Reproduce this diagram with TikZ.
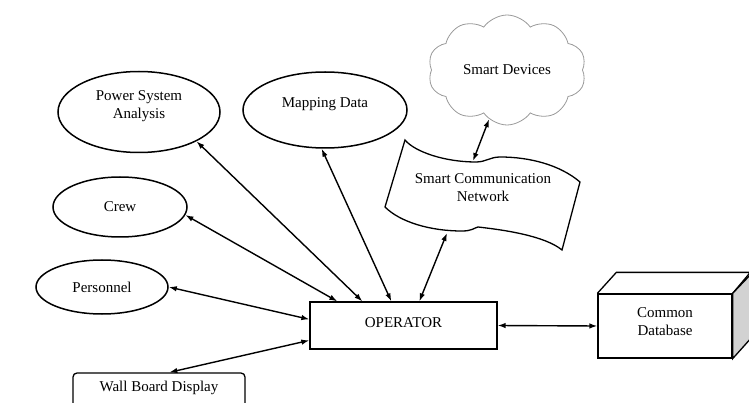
\documentclass[tikz,border=0pt]{standalone}
\usepackage{fontspec}
\setmainfont{Liberation Serif}
\usetikzlibrary{arrows.meta,shapes.geometric,shapes.symbols}
\begin{document}
\begin{tikzpicture}[x=1pt,y=-1pt,
  every node/.style={font=\fontsize{15}{18}\selectfont, align=center, inner sep=0pt},
  ell/.style={ellipse, draw, line width=1.5pt},
  boxn/.style={rectangle, draw, line width=1.3pt},
  link/.style={line width=1.4pt, {Latex[length=8pt,width=5.5pt]}-{Latex[length=8pt,width=5.5pt]}}]
\useasboundingbox (0,0) rectangle (749,403);
% ellipses
\node[ell, minimum width=162, minimum height=81, text depth=14pt] (pa) at (139,112) {Power System\\Analysis};
\node[ell, minimum width=134, minimum height=60] (cr) at (120,207) {Crew};
\node[ell, minimum width=132, minimum height=54] (pe) at (102,287) {Personnel};
\node[ell, minimum width=164, minimum height=76, text depth=14pt] (md) at (325,110) {Mapping Data};
% operator
\node[boxn, minimum width=187, minimum height=47, text depth=5pt] (op) at (403.5,325.5) {OPERATOR};
% wall board
\node[boxn, rounded corners=4pt, minimum width=172, minimum height=36, text depth=9pt] (wb) at (159,391) {Wall Board Display};
% cloud
\node[cloud, draw=gray!80, line width=0.8pt, cloud puffs=10, cloud puff arc=110, aspect=1.5,
  minimum width=158, minimum height=110] (sd) at (507,70) {Smart Devices};
% smart communication network
\draw[line width=1.3pt, fill=white] (405,140) .. controls (415,152) and (445,162) .. (476,162)
  .. controls (486,162) and (490,157) .. (500,157)
  .. controls (530,157) and (560,165) .. (580,182) -- (562,250)
  .. controls (545,236) and (505,230) .. (478,227)
  .. controls (474,228) and (472,231) .. (462,231)
  .. controls (430,231) and (400,222) .. (385,207) -- cycle;
\node (scn) at (483,188) {Smart Communication\\Network};
\coordinate (scnt) at (473,161);
\coordinate (scnb) at (447,233);
% database
\node[boxn, minimum width=134, minimum height=64, text depth=9pt] (db) at (665,326) {Common\\Database};
\draw[line width=1.3pt] (db.north west) -- ++(19,-21) -- ++(134,0) -- (db.north east);
\draw[line width=1.3pt, fill=gray!35] (db.north east) -- ++(20,-21) -- ++(0,64) -- (db.south east) -- cycle;
% connectors
\draw[link] (pa.-27) -- ([xshift=53pt]op.north west);
\draw[link] (cr.-7) -- ([xshift=28pt]op.north west);
\draw[link] (pe.east) -- ([yshift=-18pt]op.north west);
\draw[link] ([xshift=97pt]wb.north west) -- ([yshift=-39pt]op.north west);
\draw[link] (md.-95) -- ([xshift=82pt]op.north west);
\draw[link] (scnb) -- ([xshift=110pt]op.north west);
\draw[link] (scnt) -- (sd.-110);
\draw[link] (op.east) -- (db.west);
\end{tikzpicture}
\end{document}
